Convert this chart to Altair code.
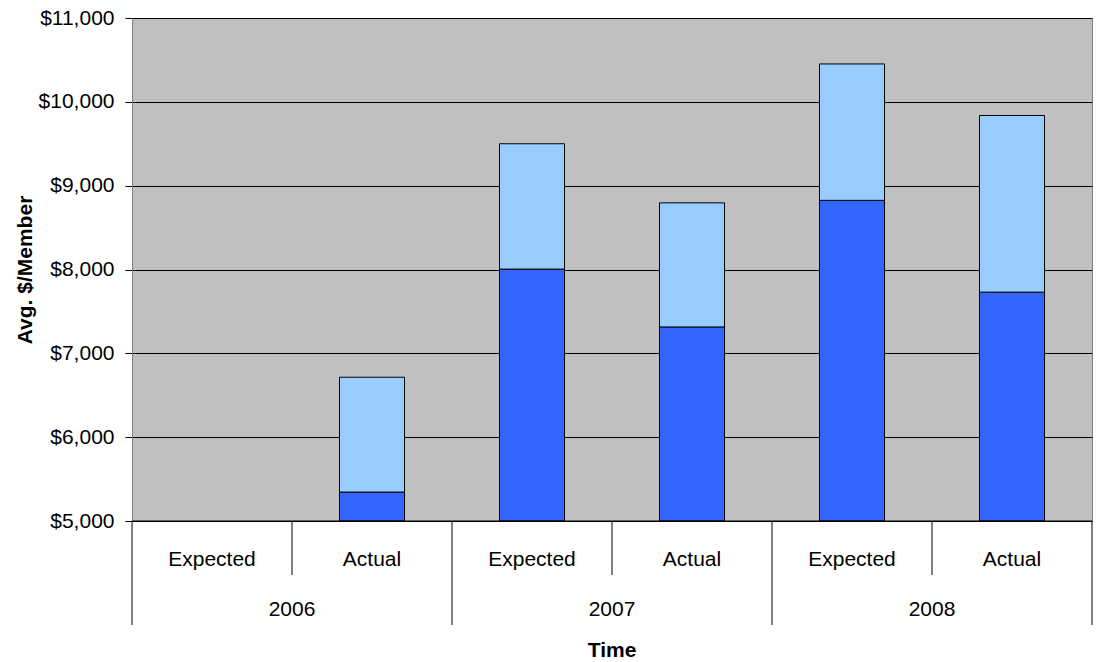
import altair as alt
import pandas as pd

# Stacked averages per member, by year and plan type
years = ["2006", "2006", "2007", "2007", "2008", "2008"]
kinds = ["Expected", "Actual", "Expected", "Actual", "Expected", "Actual"]
base_values = [None, 5345, 8005, 7315, 8825, 7730]
total_values = [None, 6715, 9500, 8795, 10452, 9837]
y_floor = 5000
y_ticks = [5000, 6000, 7000, 8000, 9000, 10000, 11000]

FONT = "Liberation Sans, Arial"
FS = 21
W, H = 960, 503

rows = []
for i, (b, t) in enumerate(zip(base_values, total_values)):
    if b is None:
        continue
    rows.append({"pos": i + 0.5, "seg": "base", "lo": y_floor, "hi": b})
    rows.append({"pos": i + 0.5, "seg": "top", "lo": b, "hi": t})
bars_df = pd.DataFrame(rows)

kind_df = pd.DataFrame({"pos": [i + 0.5 for i in range(len(kinds))], "label": kinds})
year_names = years[::2]
year_df = pd.DataFrame({"pos": [2 * i + 1 for i in range(len(year_names))], "label": year_names})
short_div = pd.DataFrame({"pos": [1, 3, 5]})
long_div = pd.DataFrame({"pos": [0, 2, 4, 6]})

xscale = alt.Scale(domain=[0, 6], nice=False, zero=False, padding=0)

bars = alt.Chart(bars_df).mark_bar(size=65, stroke="black", strokeWidth=1).encode(
    x=alt.X("pos:Q", scale=xscale, axis=None),
    y=alt.Y(
        "lo:Q",
        scale=alt.Scale(domain=[5000, 11000], nice=False, zero=False),
        axis=alt.Axis(
            values=y_ticks,
            format="$,.0f",
            title="Avg. $/Member",
            titleFont=FONT,
            titleFontSize=FS,
            titleFontWeight="bold",
            titleColor="black",
            titleAngle=270,
            titleX=-107,
            titleY=H / 2,
            titleAlign="center",
            titleBaseline="middle",
            labelFont=FONT,
            labelFontSize=FS,
            labelColor="black",
            labelPadding=11,
            tickSize=7,
            tickColor="black",
            domainColor="#808080",
            gridColor="black",
            gridWidth=1,
            grid=True,
        ),
    ),
    y2="hi:Q",
    color=alt.Color(
        "seg:N",
        scale=alt.Scale(domain=["base", "top"], range=["#3366FF", "#99CCFF"]),
        legend=None,
    ),
)

kind_text = alt.Chart(kind_df).mark_text(
    font=FONT, fontSize=FS, color="black", baseline="alphabetic"
).encode(x=alt.X("pos:Q", scale=xscale, axis=None), y=alt.value(548), text="label:N")

year_text = alt.Chart(year_df).mark_text(
    font=FONT, fontSize=FS, color="black", baseline="alphabetic"
).encode(x=alt.X("pos:Q", scale=xscale, axis=None), y=alt.value(598), text="label:N")

short_rules = alt.Chart(short_div).mark_rule(color="black", strokeWidth=1).encode(
    x=alt.X("pos:Q", scale=xscale, axis=None), y=alt.value(H), y2=alt.value(557)
)
long_rules = alt.Chart(long_div).mark_rule(color="black", strokeWidth=1).encode(
    x=alt.X("pos:Q", scale=xscale, axis=None), y=alt.value(H), y2=alt.value(607)
)

baseline_rule = alt.Chart(pd.DataFrame({"a": [0]})).mark_rule(color="black", strokeWidth=1).encode(
    x=alt.value(0), x2=alt.value(W), y=alt.value(H)
)

x_title = alt.Chart(pd.DataFrame({"t": ["Time"]})).mark_text(
    font=FONT, fontSize=FS, fontWeight="bold", color="black", baseline="alphabetic"
).encode(x=alt.value(W / 2), y=alt.value(639), text="t:N")

chart = alt.layer(
    bars, short_rules, long_rules, baseline_rule, kind_text, year_text, x_title
).properties(
    width=W,
    height=H,
    padding={"left": 132, "top": 18, "right": 5, "bottom": 141},
    autosize=alt.AutoSizeParams(type="none"),
    background="white",
).configure_view(
    fill="#C0C0C0", stroke="#808080", strokeWidth=1
)

chart.save("out.html", embed_options={"renderer": "svg", "actions": False})
